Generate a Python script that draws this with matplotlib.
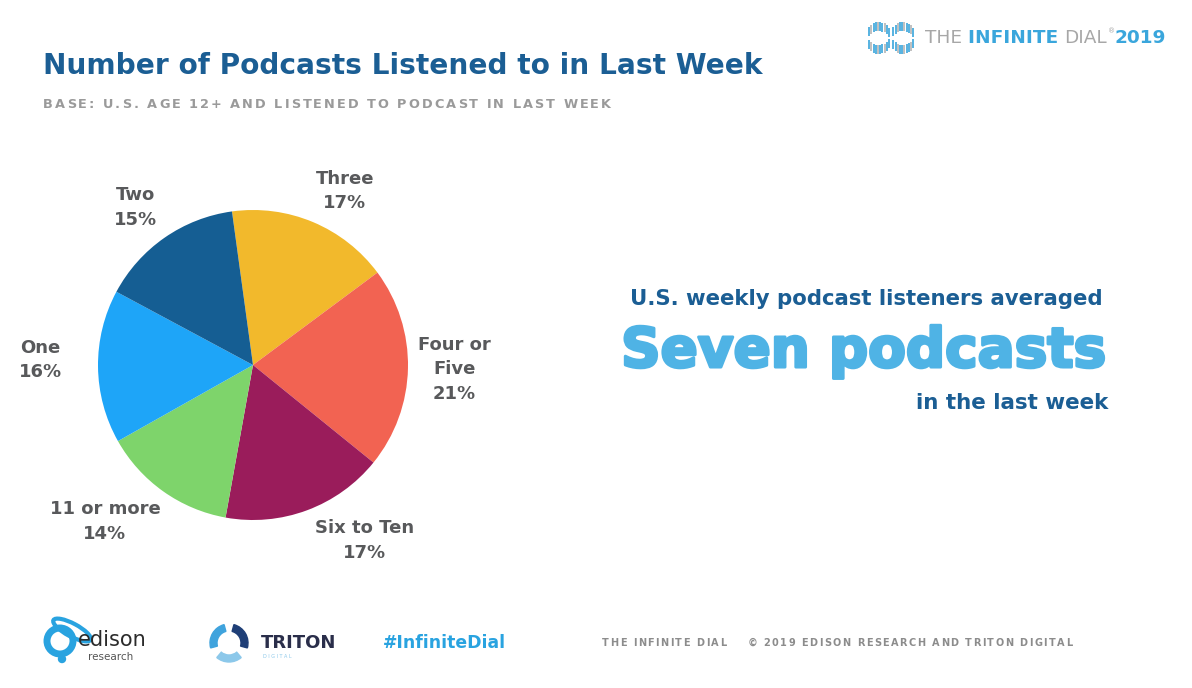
import numpy as np
import matplotlib
matplotlib.use("Agg")
import matplotlib.pyplot as plt
import matplotlib.patheffects as pe
from matplotlib.patches import Circle, Wedge, Ellipse

# ---- data ----
categories = ["Three", "Four or\nFive", "Six to Ten", "11 or more", "One", "Two"]
shares = [17, 21, 17, 14, 16, 15]
colors = ["#F2B92C", "#F26352", "#9A1C5B", "#7ED46B", "#1EA5F8", "#155E93"]

title = "Number of Podcasts Listened to in Last Week"
subtitle = "BASE: U.S. AGE 12+ AND LISTENED TO PODCAST IN LAST WEEK"
callout_top = "U.S. weekly podcast listeners averaged"
callout_big = "Seven podcasts"
callout_bottom = "in the last week"
footer = "THE INFINITE DIAL    \u00a9 2019 EDISON RESEARCH AND TRITON DIGITAL"

DARK_BLUE = "#1B5E94"
LIGHT_BLUE = "#4FB3E5"
LABEL_GRAY = "#58595B"
SUB_GRAY = "#9A9A9A"

plt.rcParams['font.family'] = ['DejaVu Sans']

W, H = 1192, 688
fig = plt.figure(figsize=(W / 100, H / 100), dpi=100)
fig.patch.set_facecolor("white")

# overlay axes in pixel coordinates
ov = fig.add_axes([0, 0, 1, 1])
ov.set_xlim(0, W)
ov.set_ylim(H, 0)
ov.axis("off")

fig.canvas.draw()
renderer = fig.canvas.get_renderer()


def text_width(t):
    return t.get_window_extent(renderer=renderer).width


def tracked_text(x, y, s, target_width, **kw):
    """Draw s starting at x with letter spacing so that it spans target_width px."""
    tmp = [ov.text(0, 0, ch, **kw) for ch in s]
    widths = []
    for t, ch in zip(tmp, s):
        if ch == " ":
            t2 = ov.text(0, 0, "a a", **kw)
            t3 = ov.text(0, 0, "aa", **kw)
            widths.append(text_width(t2) - text_width(t3))
            t2.remove(); t3.remove()
        else:
            widths.append(text_width(t))
        t.remove()
    natural = sum(widths)
    track = (target_width - natural) / max(len(s) - 1, 1)
    cx = x
    for ch, w in zip(s, widths):
        if ch != " ":
            ov.text(cx, y, ch, ha="left", va="center", **kw)
        cx += w + track


# ---- pie ----
cx, cy, R = 253, 365, 155
pax = fig.add_axes([(cx - R) / W, (H - cy - R) / H, 2 * R / W, 2 * R / H])
start = 97.8
wedges, _ = pax.pie(shares, colors=colors, startangle=start, counterclock=False,
                    radius=1.0, wedgeprops=dict(linewidth=0))
pax.set_xlim(-1, 1)
pax.set_ylim(-1, 1)
pax.set_aspect("equal")
pax.axis("off")

label_nudge = [-5, 0, 12, -8, -2, 2]
label_dist = [1.27, 1.30, 1.34, 1.39, 1.37, 1.27]
for w, cat, s, dn, dist in zip(wedges, categories, shares, label_nudge, label_dist):
    mid = np.deg2rad((w.theta1 + w.theta2) / 2 + dn)
    pax.text(dist * np.cos(mid), dist * np.sin(mid), f"{cat}\n{s}%",
             ha="center", va="center", fontsize=13, fontweight="bold",
             color=LABEL_GRAY, linespacing=1.45, clip_on=False)

# ---- titles ----
ov.text(43, 66, title, fontsize=20.2, fontweight="bold", color=DARK_BLUE,
        ha="left", va="center")
tracked_text(43, 104, subtitle, 568, fontsize=9.3, fontweight="bold", color=SUB_GRAY)

# ---- callout ----
ov.text(866, 299, callout_top, fontsize=15.3, fontweight="bold", color=DARK_BLUE,
        ha="center", va="center")
ov.text(864, 352, callout_big, fontsize=39.5, fontweight="bold", color=LIGHT_BLUE,
        ha="center", va="center",
        path_effects=[pe.withStroke(linewidth=2.2, foreground=LIGHT_BLUE)])
ov.text(1108, 403, callout_bottom, fontsize=15.4, fontweight="bold", color=DARK_BLUE,
        ha="right", va="center")

# ---- header logo ----
xs = np.arange(867, 916, 2.2)
for i, x in enumerate(xs):
    for ccx in (879, 903):
        dx = x - ccx
        if abs(dx) <= 11.5:
            dy = np.sqrt(max(11.5 ** 2 - dx ** 2, 0))
            col = "#3AA6DC" if (i % 3 != 2) else "#B5B5B5"
            for sgn in (-1, 1):
                yy = 38 + sgn * dy
                ov.plot([x, x], [yy - 4.5, yy + 4.5], color=col, lw=1.2,
                        solid_capstyle="butt")
hx = 925
fs_h = 13.3
t1 = ov.text(hx, 38, "THE ", fontsize=fs_h, color="#A7A7A7", ha="left", va="center")
x2 = hx + text_width(t1)
t2 = ov.text(x2, 38, "INFINITE ", fontsize=fs_h, fontweight="bold", color="#3AA6DC",
             ha="left", va="center")
x3 = x2 + text_width(t2)
t3 = ov.text(x3, 38, "DIAL", fontsize=fs_h, color="#A7A7A7", ha="left", va="center")
x4 = x3 + text_width(t3)
ov.text(x4 + 1, 31, "\u00ae", fontsize=5, color="#A7A7A7", ha="left", va="center")
ov.text(x4 + 7, 38, "2019", fontsize=fs_h, fontweight="bold", color="#3AA6DC",
        ha="left", va="center")

# ---- footer logos ----
# edison
ov.add_patch(Circle((60, 641), 13, fill=False, ec="#29A3E0", lw=5))
ov.add_patch(Ellipse((72, 630), 42, 13, angle=28, fill=False, ec="#29A3E0", lw=3))
ov.add_patch(Circle((62, 659), 3.5, color="#29A3E0"))
ov.text(78, 640, "edison", fontsize=15, color="#2B2B2B", ha="left", va="center")
ov.text(88, 657, "research", fontsize=7.5, color="#555555", ha="left", va="center")

# triton
tcx, tcy, tr = 229, 643, 19
for a1, a2, col in [(50, 130, "#8CC8EA"), (165, 255, "#3FA3DD"), (285, 15, "#1F3F77")]:
    ov.add_patch(Wedge((tcx, tcy), tr, a1, a2, width=7, color=col))
ov.text(261, 643, "TRITON", fontsize=13, fontweight="bold", color="#2A2E4A",
        ha="left", va="center")
ov.text(263, 657, "D I G I T A L", fontsize=3.5, color="#8CC8EA", ha="left", va="center")

ov.text(383, 643, "#InfiniteDial", fontsize=12.4, fontweight="bold", color="#29A3E0",
        ha="left", va="center")
tracked_text(602, 643, footer, 470, fontsize=7.0, fontweight="bold", color="#8C8C8C")

fig.savefig("out.png", dpi=100, facecolor="white")
